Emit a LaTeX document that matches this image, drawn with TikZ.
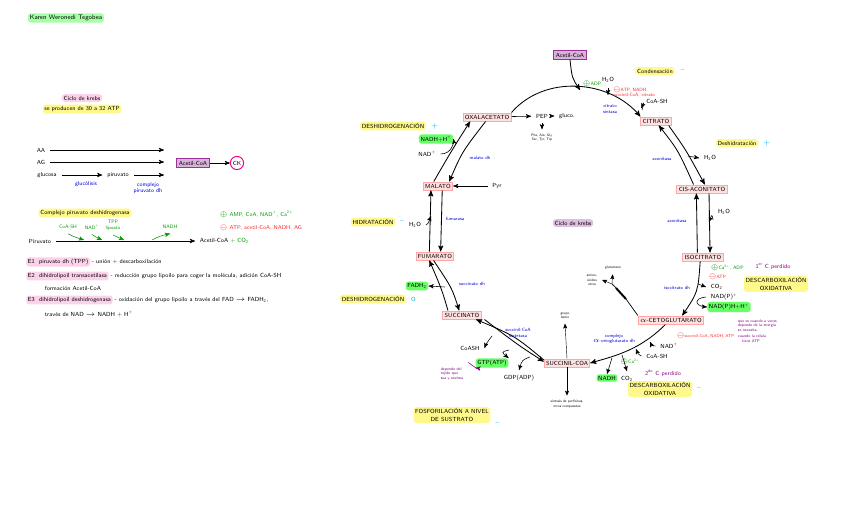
\documentclass[tikz,border=0pt]{standalone}
\usepackage{amssymb}
\usepackage{amsmath}
\usetikzlibrary{arrows,shapes,positioning}

\begin{document}
\begin{tikzpicture}[x=0.025cm,y=-0.025cm,>=stealth',font=\sffamily\fontsize{4.2}{5}\selectfont]
  \tikzstyle{met}=[rectangle,draw=red!35,fill=red!12,line width=0.7pt,inner sep=1.3pt]
  \tikzstyle{acoabox}=[rectangle,draw=violet!80,fill=violet!30,line width=0.7pt,inner sep=1.5pt]
  \tikzstyle{hl}=[rounded corners=2pt,inner sep=1.2pt]
  \tikzstyle{yel}=[hl,fill=yellow!45,align=center]
  \tikzstyle{grn}=[hl,fill=green!60]
  \tikzstyle{pnk}=[hl,fill=magenta!18]
  \tikzstyle{enz}=[text=blue!85!black,align=center,font=\sffamily\fontsize{3.3}{3.9}\selectfont]
  \tikzstyle{act}=[text=green!60!black,font=\sffamily\fontsize{3.5}{4}\selectfont]
  \tikzstyle{inh}=[text=red!85,align=left,font=\sffamily\fontsize{3.3}{3.8}\selectfont]
  \tikzstyle{nota}=[text=violet,align=left,font=\sffamily\fontsize{2.8}{3.4}\selectfont]
  \tikzstyle{mini}=[align=center,font=\sffamily\fontsize{2.5}{3}\selectfont]
  \tikzstyle{flecha}=[->,line width=0.6pt]
  \tikzstyle{fina}=[->,line width=0.4pt]

  \useasboundingbox (0,0) rectangle (848,530);

  % encabezado
  \node [grn,fill=green!35,font=\sffamily\fontsize{4.6}{5}\selectfont] (autor) at (66,18) {Karen Weronedi Tegobea};
  \node [pnk] (titulo) at (82,98) {Ciclo de krebs};
  \node [yel] (atp) at (82,109) {se producen de 30 a 32 ATP};

  % rutas hacia acetil-CoA
  \node (aa) at (41,150) {AA};
  \node (ag) at (41,162) {AG};
  \node (glu) at (47,175) {glucosa};
  \node (pir) at (118,175) {piruvato};
  \coordinate (faa) at (164,150);
  \coordinate (fag) at (164,162);
  \coordinate (fpir) at (164,175);
  \draw [fina] (aa) -- (faa);
  \draw [fina] (ag) -- (fag);
  \draw [fina] (glu) -- (pir);
  \draw [fina] (pir) -- (fpir);
  \node [enz,font=\sffamily\fontsize{4}{4.6}\selectfont] (glucolisis) at (86,184) {gluc\'olisis};
  \node [enz,font=\sffamily\fontsize{4}{4.6}\selectfont] (cpdhtxt) at (148,188) {complejo\\piruvato dh};
  \node [acoabox] (acoa1) at (193,163) {Acetil-CoA};
  \node [circle,draw=magenta,line width=0.7pt,inner sep=1pt] (ck) at (237,163) {CK};
  \draw [fina] (acoa1) -- (ck);

  % complejo piruvato deshidrogenasa
  \node [yel] (cpdh) at (85,213) {Complejo piruvato deshidrogenasa};
  \node (piru2) at (40,241) {Piruvato};
  \node [anchor=west] (acoa2) at (195,241) {Acetil-CoA \textcolor{green!60!black}{+ CO\textsubscript{2}}};
  \draw [fina] (piru2) -- (acoa2);
  \node [act] (coash0) at (68,227) {CoA-SH};
  \node [act] (nad0) at (92,227) {NAD\textsuperscript{+}};
  \node [act,align=center] (tpp0) at (113,225) {TPP\\lipoato};
  \node [act] (nadh0) at (170,227) {NADH};
  \coordinate (p1) at (84,240);
  \coordinate (p2) at (102,240);
  \coordinate (p3) at (124,240);
  \coordinate (p4) at (152,240);
  \draw [fina,green!60!black] (coash0.south) .. controls (72,236) .. (p1);
  \draw [fina,green!60!black] (nad0.south) .. controls (94,236) .. (p2);
  \draw [fina,green!60!black] (tpp0.south) .. controls (115,236) .. (p3);
  \draw [fina,green!60!black] (p4) .. controls (160,236) .. (nadh0.south);
  \node [act,anchor=west,font=\sffamily\fontsize{4}{4.6}\selectfont] (activ) at (215,214) {$\oplus$ AMP, CoA, NAD\textsuperscript{+}, Ca\textsuperscript{2+}};
  \node [inh,anchor=west,font=\sffamily\fontsize{4}{4.6}\selectfont] (inhib) at (215,228) {$\ominus$ ATP, acetil-CoA, NADH, AG};

  % enzimas del complejo
  \node [pnk,anchor=west] (e1) at (26,262) {E1 \ piruvato dh (TPP)};
  \node [anchor=west,inner sep=1pt] (e1t) at (e1.east) {- uni\'on + descarboxilaci\'on};
  \node [pnk,anchor=west] (e2) at (26,276) {E2 \ dihidrolipoil transacetilasa};
  \node [anchor=west,inner sep=1pt] (e2t) at (e2.east) {- reducci\'on grupo lipoilo para coger la mol\'ecula, adici\'on CoA-SH};
  \node [anchor=west] (e2b) at (40,288) {formaci\'on Acetil-CoA};
  \node [pnk,anchor=west] (e3) at (26,300) {E3 \ dihidrolipoil deshidrogenasa};
  \node [anchor=west,inner sep=1pt] (e3t) at (e3.east) {- oxidaci\'on del grupo lipoilo a trav\'es del FAD $\rightarrow$ FADH\textsubscript{2},};
  \node [anchor=west] (e3b) at (40,314) {trav\'es de NAD $\rightarrow$ NADH + H\textsuperscript{+}};

  % metabolitos del ciclo
  \node [met] (oxa) at (487,117) {OXALACETATO};
  \node [met] (cit) at (656,121) {CITRATO};
  \node [met] (cis) at (702,189) {CIS-ACONITATO};
  \node [met] (iso) at (703,257) {ISOCITRATO};
  \node [met] (akg) at (671,320) {$\alpha$-CETOGLUTARATO};
  \node [met] (scoa) at (567,363) {SUCCINIL-COA};
  \node [met] (suc) at (462,315) {SUCCINATO};
  \node [met] (fum) at (435,256) {FUMARATO};
  \node [met] (mal) at (438,186) {MALATO};
  \node [pnk,fill=violet!25] (ck2) at (573,223) {Ciclo de krebs};

  % entrada de acetil-CoA y condensacion
  \node [acoabox] (acoa) at (570,55) {Acetil-CoA};
  \coordinate (arr1) at (580,90);
  \draw [flecha] (oxa.north east) .. controls (545,74) and (610,80) .. (cit.north west);
  \draw [flecha] (acoa.south) .. controls (572,78) .. (arr1);
  \node [act] (adp1) at (592,84) {$\oplus$ADP};
  \node (h2o1) at (608,80) {H\textsubscript{2}O};
  \coordinate (arr2) at (608,95);
  \draw [fina] (h2o1.south) -- (arr2);
  \node [inh] (inh1) at (634,92) {$\ominus$ATP, NADH,\\succinil-CoA, citrato};
  \node (coash1) at (657,101) {CoA-SH};
  \coordinate (arr3) at (642,110);
  \draw [fina] (arr3) .. controls (644,102) .. (coash1.south west);
  \node [enz] (cs) at (610,109) {citrato\\sintasa};
  \node [yel] (cond) at (655,71) {Condensaci\'on};
  \node [text=cyan,right=1pt of cond] (condm) {--};

  % citrato <-> cis-aconitato
  \draw [flecha] ([xshift=-6]cis.north) .. controls (678,150) .. ([xshift=2]cit.south);
  \draw [flecha] ([xshift=9]cit.south) .. controls (686,150) .. ([xshift=2]cis.north);
  \node [enz] (acon1) at (662,159) {aconitasa};
  \node (h2o2) at (710,158) {H\textsubscript{2}O};
  \coordinate (arr4) at (688,156);
  \draw [fina] (arr4) -- (h2o2.west);
  \node [yel] (deshid) at (737,143) {Deshidrataci\'on};
  \node [text=cyan,right=0pt of deshid,font=\sffamily\fontsize{6}{6}\selectfont] (deshidm) {+};

  % cis-aconitato <-> isocitrato
  \draw [flecha] ([xshift=-4]iso.north) -- ([xshift=-4]cis.south);
  \draw [flecha] ([xshift=5]cis.south) -- ([xshift=5]iso.north);
  \node (h2o3) at (724,212) {H\textsubscript{2}O};
  \coordinate (arr5) at (709,222);
  \draw [fina] (h2o3.south west) .. controls (712,214) .. (arr5);
  \node [enz] (acon2) at (677,221) {aconitasa};

  % isocitrato -> alfa-cetoglutarato
  \draw [flecha] ([xshift=-2]iso.south) .. controls (698,292) .. ([xshift=8]akg.north);
  \node [act,anchor=west] (act2) at (706,268) {$\oplus$Ca\textsuperscript{2+}, ADP};
  \node [inh,anchor=west] (inh2) at (704,277) {$\ominus$ATP};
  \node [anchor=west] (co2a) at (706,287) {CO\textsubscript{2}};
  \node [anchor=west] (nadp) at (706,297) {NAD(P)\textsuperscript{+}};
  \node [grn,anchor=west] (nadph) at (707,307) {NAD(P)H+H\textsuperscript{+}};
  \coordinate (arr6) at (698,284);
  \draw [fina] (arr6) -- (co2a.west);
  \draw [fina] (nadp.west) .. controls (694,298) and (694,306) .. (nadph.west);
  \node [enz] (idh) at (677,288) {isocitrato dh};
  \node [text=violet!90!magenta] (c1) at (773,267) {1\textsuperscript{er} C perdido};
  \node [yel] (dox1) at (776,284) {DESCARBOXILACI\'ON\\OXIDATIVA};
  \node [nota,anchor=west] (nota1) at (733,331) {que es cuando a veces\\depende de la energ\'ia\\se necesita,\\[1pt]cuando la c\'elula\\ \ \ \ tiene ATP};

  % salida del alfa-cetoglutarato
  \coordinate (ram) at (612,284);
  \draw [line width=0.5pt] (akg.north west) -- (626,299);
  \draw [line width=1.4pt] (626,299) -- (616,288);
  \draw [line width=0.5pt] (616,288) -- (ram);
  \node [mini] (glut) at (613,268) {glutamato};
  \node [mini] (aas) at (592,280) {amino-\\\'acidos\\otros};
  \draw [->,line width=0.3pt] (ram) -- (glut);
  \draw [->,line width=0.3pt] (ram) -- (aas.east);

  % alfa-cetoglutarato -> succinil-CoA
  \draw [flecha] ([xshift=-4]akg.south) .. controls (640,350) and (615,356) .. (scoa.east);
  \node [inh,anchor=west,font=\sffamily\fontsize{3}{3.5}\selectfont] (inh3) at (672,336) {$\ominus$succinil-CoA, NADH, ATP};
  \node (nad3) at (669,346) {NAD\textsuperscript{+}};
  \node (coash3) at (657,356) {CoA-SH};
  \coordinate (arr7) at (650,342);
  \coordinate (arr8) at (636,349);
  \draw [fina] (nad3.west) .. controls (652,346) .. (arr7);
  \draw [fina] (coash3.west) .. controls (638,354) .. (arr8);
  \node [act] (act3) at (630,362) {$\oplus$Ca\textsuperscript{2+}};
  \node [grn] (nadh3) at (607,378) {NADH};
  \node (co23) at (627,379) {CO\textsubscript{2}};
  \coordinate (arr9) at (612,358);
  \coordinate (arr10) at (622,355);
  \draw [fina] (arr9) -- (nadh3.north);
  \draw [fina] (arr10) -- (co23.north);
  \node [enz] (akgdh) at (614,339) {complejo\\$\alpha$-cetoglutarato dh};
  \node [text=violet!90!magenta] (c2) at (663,373) {2\textsuperscript{do} C perdido};
  \node [yel] (dox2) at (660,389) {DESCARBOXILACI\'ON\\OXIDATIVA};
  \node [text=cyan,right=0pt of dox2] (dox2m) {--};

  % succinil-CoA: otras rutas
  \node [mini] (hemo) at (565,316) {grupo\\hemo};
  \node [mini] (porf) at (567,404) {s\'intesis de porfirinas,\\otros compuestos};
  \draw [->,line width=0.3pt] (scoa.north) -- (hemo.south);
  \draw [->,line width=0.3pt] (scoa.south) -- (porf.north);

  % succinil-CoA <-> succinato
  \draw [flecha] ([yshift=-1]scoa.north west) .. controls (515,336) .. ([xshift=10]suc.south);
  \draw [flecha] ([xshift=16]suc.south) .. controls (518,345) .. ([yshift=1]scoa.west);
  \node [enz] (sucs) at (518,333) {succinil-CoA\\sintetasa};
  \node (coash4) at (470,348) {CoASH};
  \coordinate (arr11) at (492,336);
  \draw [fina] (arr11) .. controls (486,344) .. (coash4.east);
  \node [grn] (gtp) at (492,363) {GTP(ATP)};
  \coordinate (arr12) at (509,350);
  \draw [fina] (arr12) .. controls (501,352) .. (gtp.north east);
  \node (gdp) at (519,378) {GDP(ADP)};
  \coordinate (arr13) at (530,357);
  \draw [fina] (arr13) .. controls (522,360) .. (gdp.north);
  \node [nota] (nota2) at (452,374) {depende del\\tejido que\\sea y enzima};
  \draw [->,violet,line width=0.4pt] (nota2.north east) .. controls (476,368) .. (gtp.south west);
  \node [yel] (fosf) at (452,415) {FOSFORILACI\'ON A NIVEL\\DE SUSTRATO};
  \node [text=cyan,anchor=west] (fosfm) at (fosf.south east) {--};

  % succinato <-> fumarato
  \draw [flecha] ([xshift=-10]suc.north) .. controls (442,290) .. ([xshift=-4]fum.south);
  \draw [flecha] ([xshift=-1]fum.south) .. controls (452,288) .. ([xshift=-2]suc.north);
  \node [grn] (fadh) at (417,286) {FADH\textsubscript{2}};
  \coordinate (arr14) at (445,287);
  \draw [fina] (arr14) -- (fadh.east);
  \node [enz] (sdh) at (472,284) {succinato dh};
  \node [yel] (deshg1) at (373,299) {DESHIDROGENACI\'ON};
  \node [text=cyan,right=0pt of deshg1] (deshg1m) {O};

  % fumarato <-> malato
  \draw [flecha] ([xshift=-4]fum.north) -- ([xshift=-5]mal.south);
  \draw [flecha] ([xshift=3]mal.south) -- ([xshift=4]fum.north);
  \node (h2o4) at (415,225) {H\textsubscript{2}O};
  \coordinate (arr15) at (431,216);
  \draw [fina] (h2o4.east) .. controls (428,224) .. (arr15);
  \node [enz] (fumasa) at (455,219) {fumarasa};
  \node [yel] (hidrat) at (373,222) {HIDRATACI\'ON};
  \node [text=cyan,right=0pt of hidrat] (hidratm) {--};

  % malato <-> oxalacetato
  \draw [flecha] ([xshift=-3]mal.north) .. controls (452,150) .. ([xshift=-12]oxa.south);
  \draw [flecha] ([xshift=-1]oxa.south) .. controls (462,152) .. ([xshift=8]mal.north);
  \node [grn] (nadh5) at (436,139) {NADH+H\textsuperscript{+}};
  \node (nad5) at (427,154) {NAD\textsuperscript{+}};
  \draw [fina] (nad5.east) .. controls (452,154) and (454,142) .. (nadh5.east);
  \node [enz] (mdh) at (480,158) {malato dh};
  \node [yel] (deshg2) at (393,126) {DESHIDROGENACI\'ON};
  \node [text=cyan,right=0pt of deshg2,font=\sffamily\fontsize{6}{6}\selectfont] (deshg2m) {+};
  \node (pyr) at (497,186) {Pyr};
  \draw [fina] (pyr) -- (mal);

  % oxalacetato: otras rutas
  \node (pep) at (542,116) {PEP};
  \node (gluco) at (567,116) {gluco.};
  \node [mini] (aas2) at (542,138) {Phe, Ala, Gly,\\Ser, Tyr, Trp};
  \draw [fina] (oxa) -- (pep);
  \draw [fina] (pep) -- (gluco);
  \draw [fina] (pep) -- (aas2);
\end{tikzpicture}
\end{document}
